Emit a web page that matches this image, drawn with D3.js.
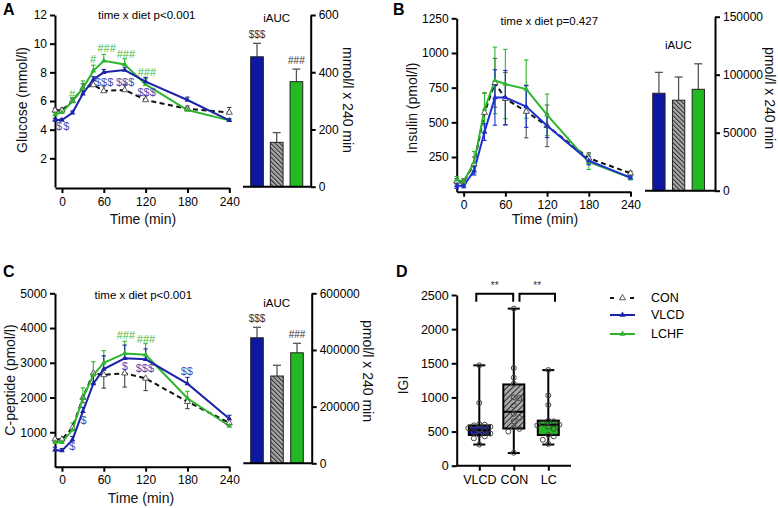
<!DOCTYPE html>
<html><head><meta charset="utf-8">
<script src="https://cdn.jsdelivr.net/npm/d3@7"></script>
<style>body{margin:0;background:#fff}</style>
</head><body><svg id="c" width="778" height="508"></svg>
<script>
// ---------- DATA ----------
const times = [-10, 0, 15, 30, 45, 60, 90, 120, 180, 240];
const timeTicks = [0, 60, 120, 180, 240];
const barGroups = ["VLCD", "CON", "LCHF"];

// Glucose (mmol/l)
const glucoseVLCD = [4.67, 4.67, 5.18, 6.5, 7.5, 8.0, 8.16, 7.35, 6.07, 4.65];
const glucoseLCHF = [5.05, 5.2, 6.0, 6.9, 8.1, 8.8, 8.55, 7.16, 5.37, 4.65];
const glucoseCON  = [5.35, 5.35, 6.0, 6.9, 7.12, 6.7, 6.77, 6.07, 5.45, 5.2];
const glucoseErrVLCD = [0.12, 0.1, 0.12, 0.2, 0.2, 0.2, 0.2, 0.3, 0.2, 0.1];
const glucoseErrLCHF = [0.15, 0.12, 0.2, 0.5, 0.4, 0.45, 0.4, 0.4, 0.15, 0.1];
const glucoseErrCON  = [0.15, 0.15, 0.2, 0.3, 0.3, 0.35, 0.4, 0.3, 0.2, 0.35];
const glucoseYTicks = [2, 4, 6, 8, 10, 12];
const glucoseAUC = [454, 155, 367];
const glucoseAUCErr = [47, 34, 44];
const glucoseAUCTicks = [0, 200, 400, 600];
const glucoseAUCMarks = ["$$$", "", "###"];
const glucoseMarkText  = ["#", "#", "###", "###", "###", "$", "$", "$$$", "$$$", "$$$"];
const glucoseMarkTime  = [14.4, 44.6, 64, 91.7, 122, -4.3, 6.3, 60.4, 90.6, 121.4];
const glucoseMarkValue = [6.49, 8.9, 9.72, 9.28, 8.0, 4.23, 4.23, 7.35, 7.35, 6.65];

// Insulin (pmol/l)
const insulinVLCD = [43, 43, 150, 430, 679, 679, 614, 475, 224, 101];
const insulinLCHF = [85, 73, 210, 595, 802, 776, 740, 554, 215, 100];
const insulinCON  = [75, 70, 200, 570, 785, 670, 578, 475, 241, 133];
const insulinErrVLCD = [20, 15, 30, 60, 200, 195, 150, 85, 30, 10];
const insulinErrLCHF = [25, 20, 80, 120, 240, 250, 210, 150, 55, 15];
const insulinErrCON  = [20, 20, 50, 140, 176, 190, 190, 150, 40, 15];
const insulinYTicks = [250, 500, 750, 1000, 1250];
const insulinAUC = [84000, 78000, 87400];
const insulinAUCErr = [18000, 20000, 22000];
const insulinAUCTicks = [0, 50000, 100000, 150000];

// C-peptide (pmol/l)
const cpepVLCD = [490, 470, 780, 1600, 2400, 2820, 3130, 3100, 2400, 1390];
const cpepLCHF = [710, 710, 1070, 1980, 2650, 3000, 3270, 3230, 1980, 1180];
const cpepCON  = [800, 800, 1130, 2000, 2700, 2650, 2700, 2550, 1880, 1270];
const cpepErrVLCD = [80, 60, 100, 120, 250, 380, 380, 300, 180, 100];
const cpepErrLCHF = [80, 60, 200, 300, 380, 350, 350, 320, 200, 60];
const cpepErrCON  = [60, 60, 80, 150, 300, 380, 400, 350, 200, 60];
const cpepYTicks = [1000, 2000, 3000, 4000, 5000];
const cpepAUC = [443000, 308000, 390000];
const cpepAUCErr = [37000, 38000, 33500];
const cpepAUCTicks = [0, 200000, 400000, 600000];
const cpepAUCMarks = ["$$$", "", "###"];
const cpepMarkText  = ["###", "###", "$", "$$$", "$$", "$", "$"];
const cpepMarkTime  = [91.7, 120.5, 90.3, 119, 179, 30.8, 15];
const cpepMarkValue = [3804, 3689, 2910, 2844, 2767, 1354, 605];

// IGI
const igiGroups = ["VLCD", "CON", "LC"];
const igiMin = [310, 185, 310];
const igiQ1  = [450, 545, 450];
const igiMed = [520, 790, 600];
const igiQ3  = [590, 1190, 660];
const igiMax = [1470, 2300, 1400];
const igiVLCD = [1470, 920, 610, 600, 590, 570, 550, 530, 510, 490, 470, 450, 430, 400, 310];
const igiCON  = [2300, 1430, 1290, 1200, 1000, 990, 880, 760, 700, 650, 560, 540, 500, 190];
const igiLC   = [1400, 1030, 890, 660, 650, 620, 600, 590, 570, 540, 450, 430, 380, 320];
const igiYTicks = [0, 500, 1000, 1500, 2000, 2500];

// ---------- STYLE ----------
const FONT = "'Liberation Sans', Arial, Helvetica, sans-serif";
const BLUE = "#1b23a8", GREEN = "#2eb52e", BARBLUE = "#0c17a2", BARGREEN = "#22b922";
const MARKBLUE = "#4a4cb2", MARKGREEN = "#3dbb3d";

const svg = d3.select("#c").style("font-family", FONT);
const defs = svg.append("defs");
function hatch(id, bg, s, angle) {
  const p = defs.append("pattern").attr("id", id).attr("patternUnits", "userSpaceOnUse")
    .attr("width", s).attr("height", s).attr("patternTransform", `rotate(${angle})`);
  p.append("rect").attr("width", s).attr("height", s).attr("fill", bg);
  p.append("line").attr("x1", 0.5).attr("y1", 0).attr("x2", 0.5).attr("y2", s)
    .attr("stroke", "#2a2a2a").attr("stroke-width", 1);
}
hatch("hBar", "#a9a9a9", 3.2, -45);
hatch("hBox", "#a9a9a9", 4, 45);

function styleAxis(sel, fs) {
  sel.attr("font-family", FONT).attr("font-size", fs || 12);
  sel.select(".domain").attr("stroke", "#000").attr("stroke-width", 2);
  sel.selectAll(".tick line").attr("stroke", "#000").attr("stroke-width", 2);
  sel.selectAll(".tick text").attr("fill", "#000");
}
function text(x, y, s, o) {
  o = o || {};
  const t = svg.append("text").attr("x", x).attr("y", y).text(s)
    .attr("font-size", o.fs || 12).attr("fill", o.fill || "#000")
    .attr("text-anchor", o.anchor || "middle");
  if (o.bold) t.attr("font-weight", "bold");
  if (o.rot) t.attr("transform", `rotate(${o.rot},${x},${y})`);
  if (o.dy) t.attr("dy", o.dy);
  return t;
}
const tri = d3.symbol().type(d3.symbolTriangle);

function linePanel(cfg) {
  const x = d3.scaleLinear().domain([-10, 240]).range(cfg.xr);
  const y = d3.scaleLinear().domain(cfg.yd).range(cfg.yr);
  const g = svg.append("g");
  g.append("g").attr("transform", `translate(0,${cfg.axisY})`)
    .call(d3.axisBottom(x).tickValues(timeTicks).tickSize(5).tickSizeOuter(0).tickPadding(4))
    .call(styleAxis);
  g.append("g").attr("transform", `translate(${cfg.xr[0]},0)`)
    .call(d3.axisLeft(y).tickValues(cfg.yt).tickSize(5).tickSizeOuter(0).tickPadding(3).tickFormat(d3.format("d")))
    .call(styleAxis);
  const line = d3.line().x((d, i) => x(times[i])).y(d => y(d));
  // error bars
  cfg.series.forEach(s => {
    const eg = g.append("g").attr("stroke", s.ecolor).attr("stroke-width", 1.1);
    s.vals.forEach((v, i) => {
      const cx = x(times[i]);
      const lo = s.dir < 0 ? v - s.err[i] : (s.dir === 0 ? v - s.err[i] : v);
      const hi = s.dir > 0 ? v + s.err[i] : (s.dir === 0 ? v + s.err[i] : v);
      eg.append("line").attr("x1", cx).attr("x2", cx).attr("y1", y(lo)).attr("y2", y(hi));
      if (s.dir >= 0) eg.append("line").attr("x1", cx - 2.2).attr("x2", cx + 2.2).attr("y1", y(hi)).attr("y2", y(hi));
      if (s.dir <= 0) eg.append("line").attr("x1", cx - 2.2).attr("x2", cx + 2.2).attr("y1", y(lo)).attr("y2", y(lo));
    });
  });
  cfg.series.forEach(s => {
    g.append("path").attr("d", line(s.vals)).attr("fill", "none").attr("stroke", s.color)
      .attr("stroke-width", 2).attr("stroke-dasharray", s.dash ? "5,3.5" : null);
  });
  cfg.series.forEach(s => {
    s.vals.forEach((v, i) => {
      g.append("path").attr("d", tri.size(s.open ? 16 : 14)())
        .attr("transform", `translate(${x(times[i])},${y(v)})`)
        .attr("fill", s.open ? "#fff" : s.color).attr("stroke", s.open ? "#333" : "none").attr("stroke-width", 0.8);
    });
  });
  if (cfg.marks) {
    cfg.marks.text.forEach((t, i) => {
      text(x(cfg.marks.time[i]), y(cfg.marks.value[i]), t,
        { fs: 11, fill: t[0] === "$" ? MARKBLUE : MARKGREEN, dy: "0.35em" });
    });
  }
  text(cfg.title[0], cfg.title[1], cfg.title[2], { fs: 11.5 });
  text(cfg.xlab[0], cfg.xlab[1], "Time (min)", { fs: 14, fill: "#111" });
  text(cfg.ylab[0], cfg.ylab[1], cfg.ylab[2], { fs: 14, rot: -90, dy: "0.35em", fill: "#111" });
  text(cfg.letter[0], cfg.letter[1], cfg.letter[2], { fs: 16, bold: true, anchor: "start" });

  // bar chart
  const b = cfg.bar;
  const by = d3.scaleLinear().domain([0, b.ticks[b.ticks.length - 1]]).range(b.yr);
  const bx = d3.scalePoint().domain(barGroups).range(b.xc);
  const bw = b.w;
  const fills = [BARBLUE, "url(#hBar)", BARGREEN];
  const eg = g.append("g").attr("stroke", "#555").attr("stroke-width", 1.3);
  b.vals.forEach((v, i) => {
    const cx = bx(barGroups[i]);
    eg.append("line").attr("x1", cx).attr("x2", cx).attr("y1", by(v)).attr("y2", by(v + b.err[i]));
    eg.append("line").attr("x1", cx - 4).attr("x2", cx + 4).attr("y1", by(v + b.err[i])).attr("y2", by(v + b.err[i]));
  });
  g.selectAll(null).data(b.vals).join("rect")
    .attr("x", (d, i) => bx(barGroups[i]) - bw / 2).attr("width", bw)
    .attr("y", d => by(d)).attr("height", d => by(0) - by(d))
    .attr("fill", (d, i) => fills[i]).attr("stroke", "#222").attr("stroke-width", 1);
  g.append("line").attr("x1", b.base0).attr("x2", b.axisX).attr("y1", by(0)).attr("y2", by(0))
    .attr("stroke", "#000").attr("stroke-width", 2);
  g.append("g").attr("transform", `translate(${b.axisX},0)`)
    .call(d3.axisRight(by).tickValues(b.ticks).tickSize(5).tickSizeOuter(0).tickPadding(3).tickFormat(d3.format("d")))
    .call(styleAxis);
  if (b.marks) b.marks.forEach((m, i) => {
    if (m) text(bx(barGroups[i]), by(b.vals[i] + b.err[i]) - 5, m, { fs: 10, fill: "#333" });
  });
  text(b.title[0], b.title[1], "iAUC", { fs: 11.5 });
  text(b.ylab[0], b.ylab[1], b.ylab[2], { fs: 14, rot: 90, dy: "0.35em", fill: "#111" });
}

// Panel A
linePanel({
  xr: [55, 229.3], yd: [0, 12], yr: [187, 15], axisY: 188, yt: glucoseYTicks,
  series: [
    { vals: glucoseCON, err: glucoseErrCON, dir: 1, color: "#111", ecolor: "#444", dash: true, open: true },
    { vals: glucoseLCHF, err: glucoseErrLCHF, dir: 1, color: GREEN, ecolor: GREEN },
    { vals: glucoseVLCD, err: glucoseErrVLCD, dir: 1, color: BLUE, ecolor: BLUE }
  ],
  marks: { text: glucoseMarkText, time: glucoseMarkTime, value: glucoseMarkValue },
  title: [146.7, 19, "time x diet p<0.001"],
  xlab: [143, 224], ylab: [21.7, 100, "Glucose (mmol/l)"], letter: [3, 15, "A"],
  bar: { vals: glucoseAUC, err: glucoseAUCErr, ticks: glucoseAUCTicks, marks: glucoseAUCMarks,
    yr: [186.7, 15], xc: [257, 296.4], w: 12.7, axisX: 310.7, base0: 243,
    title: [276.7, 22], ylab: [348, 100, "mmol/l x 240 min"] }
});

// Panel B
linePanel({
  xr: [456.7, 630.5], yd: [0, 1250], yr: [191.7, 18.3], axisY: 191.7, yt: insulinYTicks,
  series: [
    { vals: insulinCON, err: insulinErrCON, dir: 0, color: "#111", ecolor: "#555", dash: true, open: true },
    { vals: insulinLCHF, err: insulinErrLCHF, dir: 0, color: GREEN, ecolor: GREEN },
    { vals: insulinVLCD, err: insulinErrVLCD, dir: 0, color: "#1c2fd0", ecolor: "#1c2fd0" }
  ],
  title: [549.3, 25, "time x diet p=0.427"],
  xlab: [545, 224], ylab: [411.7, 108, "Insulin (pmol/l)"], letter: [393, 15, "B"],
  bar: { vals: insulinAUC, err: insulinAUCErr, ticks: insulinAUCTicks,
    yr: [190.7, 16.7], xc: [658.9, 698.3], w: 12.3, axisX: 715, base0: 645,
    title: [678.3, 49], ylab: [770, 98, "pmol/l x 240 min"] }
});

// Panel C
linePanel({
  xr: [55, 229.3], yd: [0, 5000], yr: [467, 293.3], axisY: 466.7, yt: cpepYTicks,
  series: [
    { vals: cpepCON, err: cpepErrCON, dir: -1, color: "#111", ecolor: "#444", dash: true, open: true },
    { vals: cpepLCHF, err: cpepErrLCHF, dir: 1, color: GREEN, ecolor: GREEN },
    { vals: cpepVLCD, err: cpepErrVLCD, dir: 1, color: BLUE, ecolor: BLUE }
  ],
  marks: { text: cpepMarkText, time: cpepMarkTime, value: cpepMarkValue },
  title: [143.3, 299, "time x diet p<0.001"],
  xlab: [141, 503], ylab: [10, 380, "C-peptide (pmol/l)"], letter: [3, 277, "C"],
  bar: { vals: cpepAUC, err: cpepAUCErr, ticks: cpepAUCTicks, marks: cpepAUCMarks,
    yr: [463.3, 293.3], xc: [257, 297], w: 12.6, axisX: 311.7, base0: 243.3,
    title: [276.7, 307], ylab: [368, 371, "pmol/l x 240 min"] }
});

// Panel D
(function () {
  const x = d3.scalePoint().domain(igiGroups).range([479.3, 548.3]);
  const y = d3.scaleLinear().domain([0, 2500]).range([465.7, 295]);
  const g = svg.append("g");
  g.append("g").attr("transform", `translate(0,465.7)`)
    .call(d3.axisBottom(x).tickSize(5).tickSizeOuter(0).tickPadding(4)).call(styleAxis, 12.5);
  g.select(".domain").attr("d", "M456.7,0H571");
  g.append("g").attr("transform", `translate(456.7,0)`)
    .call(d3.axisLeft(y).tickValues(igiYTicks).tickSize(5).tickSizeOuter(0).tickPadding(3).tickFormat(d3.format("d")))
    .call(styleAxis, 12.5);
  const bw = 21, cw = 12;
  const fills = [BARBLUE, "url(#hBox)", BARGREEN];
  const pts = [igiVLCD, igiCON, igiLC];
  igiGroups.forEach((k, i) => {
    const cx = x(k);
    g.append("line").attr("x1", cx).attr("x2", cx).attr("y1", y(igiMin[i])).attr("y2", y(igiMax[i]))
      .attr("stroke", "#000").attr("stroke-width", 2);
    [igiMin[i], igiMax[i]].forEach(v => g.append("line").attr("x1", cx - cw / 2).attr("x2", cx + cw / 2)
      .attr("y1", y(v)).attr("y2", y(v)).attr("stroke", "#000").attr("stroke-width", 2));
    g.append("rect").attr("x", cx - bw / 2).attr("width", bw).attr("y", y(igiQ3[i]))
      .attr("height", y(igiQ1[i]) - y(igiQ3[i])).attr("fill", fills[i]).attr("stroke", "#000").attr("stroke-width", 2);
    g.append("line").attr("x1", cx - bw / 2).attr("x2", cx + bw / 2).attr("y1", y(igiMed[i])).attr("y2", y(igiMed[i]))
      .attr("stroke", "#000").attr("stroke-width", 2);
    // beeswarm-style dots
    const placed = [];
    const offs = [0, 5.5, -5.5, 11, -11, 8, -8, 2.7, -2.7];
    pts[i].forEach(v => {
      const py = y(v);
      let ox = 0;
      for (const o of offs) {
        if (placed.every(p => Math.hypot(p[0] - o, p[1] - py) >= 5.2)) { ox = o; break; }
      }
      placed.push([ox, py]);
      g.append("circle").attr("cx", cx + ox).attr("cy", py).attr("r", 2.5)
        .attr("fill", "none").attr("stroke", "#444").attr("stroke-width", 1);
    });
  });
  // significance brackets
  const br = [[x("VLCD") - 3, x("CON") - 0.6], [x("CON") + 5.7, x("LC") + 6.7]];
  br.forEach(([a, c]) => {
    g.append("path").attr("d", `M${a},${y(2400)}V${y(2520)}H${c}V${y(2400)}`)
      .attr("fill", "none").attr("stroke", "#000").attr("stroke-width", 2);
    text((a + c) / 2, y(2585), "**", { fs: 10, fill: "#333" });
  });
  text(403.3, 385, "IGI", { fs: 14, rot: -90, dy: "0.35em", fill: "#111" });
  text(396, 277, "D", { fs: 16, bold: true, anchor: "start" });

  // legend
  const lg = svg.append("g");
  const rows = [
    { label: "CON", y: 298, color: "#111", dash: true, open: true },
    { label: "VLCD", y: 315, color: BLUE },
    { label: "LCHF", y: 334, color: GREEN }
  ];
  rows.forEach(r => {
    lg.append("line").attr("x1", 610).attr("x2", 635).attr("y1", r.y).attr("y2", r.y)
      .attr("stroke", r.color).attr("stroke-width", 2).attr("stroke-dasharray", r.dash ? "4,6" : null);
    lg.append("path").attr("d", tri.size(16)()).attr("transform", `translate(622.5,${r.y})`)
      .attr("fill", r.open ? "#fff" : r.color).attr("stroke", r.open ? "#333" : "none").attr("stroke-width", 0.8);
    text(651, r.y, r.label, { fs: 12.5, anchor: "start", dy: "0.35em" });
  });
})();
</script>
</body></html>
